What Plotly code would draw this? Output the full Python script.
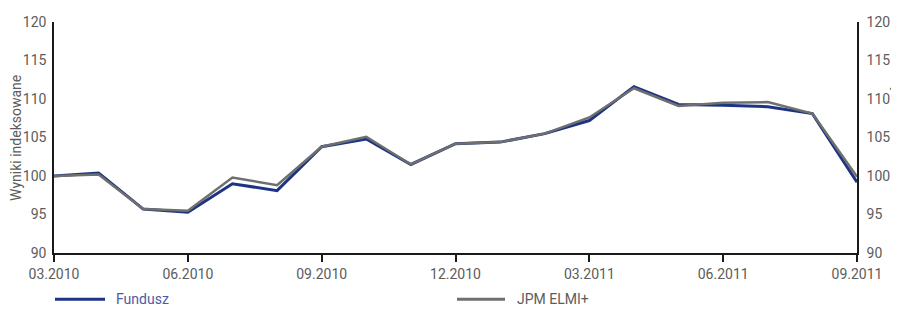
import plotly.graph_objects as go

months = ["03.2010", "04.2010", "05.2010", "06.2010", "07.2010", "08.2010", "09.2010",
          "10.2010", "11.2010", "12.2010", "01.2011", "02.2011", "03.2011", "04.2011",
          "05.2011", "06.2011", "07.2011", "08.2011", "09.2011"]
fundusz = [100.0, 100.4, 95.7, 95.3, 99.0, 98.1, 103.8, 104.8, 101.5, 104.2, 104.4,
           105.5, 107.2, 111.6, 109.3, 109.2, 109.0, 108.1, 99.2]
jpm = [100.0, 100.2, 95.7, 95.5, 99.8, 98.8, 103.8, 105.1, 101.5, 104.2, 104.4,
       105.5, 107.6, 111.4, 109.1, 109.5, 109.6, 108.1, 99.9]
tick_labels = ["03.2010", "06.2010", "09.2010", "12.2010", "03.2011", "06.2011", "09.2011"]
y_title = "Wyniki indeksowane"

NAVY = "#1c3483"
GRAY = "#6f6f6f"
TXT = "#5c5c5c"
FONT = "Roboto, Liberation Sans, sans-serif"

idx = list(range(len(months)))
tickvals = [months.index(t) for t in tick_labels]

fig = go.Figure()
fig.add_trace(go.Scatter(x=idx, y=jpm, mode="lines", name="JPM ELMI+",
                         line=dict(color=GRAY, width=2.5), yaxis="y2"))
fig.add_trace(go.Scatter(x=idx, y=fundusz, mode="lines", name="Fundusz",
                         line=dict(color=NAVY, width=3)))

fig.update_layout(
    width=891, height=302,
    margin=dict(l=46, r=42, t=6, b=57),
    paper_bgcolor="white", plot_bgcolor="white",
    showlegend=False,
    font=dict(family=FONT, size=14, color=TXT),
    xaxis=dict(range=[0, 18], tickvals=tickvals, ticktext=tick_labels,
               showgrid=False, zeroline=False, showline=True, linecolor="#1a1a1a",
               linewidth=2, ticks="outside", ticklen=7, tickwidth=1.5, tickcolor="#1a1a1a",
               ticklabeloverflow="allow", tickfont=dict(size=14, color=TXT)),
    yaxis=dict(range=[90, 120], dtick=5, showgrid=False, zeroline=False,
               showline=True, linecolor="#1a1a1a", linewidth=1.5, ticks="",
               ticklabelstandoff=3, ticklabeloverflow="allow",
               tickfont=dict(size=14, color=TXT)),
    yaxis2=dict(range=[90, 120], dtick=5, overlaying="y", side="right",
                showgrid=False, zeroline=False, showline=True, linecolor="#1a1a1a",
                linewidth=1.5, ticks="", ticklabelstandoff=5, ticklabeloverflow="allow",
                tickfont=dict(size=14, color=TXT)),
)

# axis titles
fig.add_annotation(text=y_title, xref="paper", yref="paper", x=-0.048, y=0.5,
                   textangle=-90, showarrow=False, xanchor="center", yanchor="middle",
                   font=dict(size=14, color=TXT))
fig.add_annotation(text=y_title, xref="paper", yref="paper", x=1.052, y=0.5,
                   textangle=90, showarrow=False, xanchor="center", yanchor="middle",
                   font=dict(size=14, color=TXT))

# legend (manual)
fig.add_shape(type="line", xref="paper", yref="paper", x0=1/803, x1=51/803,
              y0=-0.2, y1=-0.2, line=dict(color=NAVY, width=3))
fig.add_annotation(text="Fundusz", xref="paper", yref="paper", x=60/803, y=-0.2,
                   xanchor="left", yanchor="middle", showarrow=False,
                   font=dict(size=14, color="#4a5aa8"))
fig.add_shape(type="line", xref="paper", yref="paper", x0=403/803, x1=451/803,
              y0=-0.2, y1=-0.2, line=dict(color=GRAY, width=3))
fig.add_annotation(text="JPM ELMI+", xref="paper", yref="paper", x=461/803, y=-0.2,
                   xanchor="left", yanchor="middle", showarrow=False,
                   font=dict(size=14, color=TXT))

fig.write_html("out.html")
